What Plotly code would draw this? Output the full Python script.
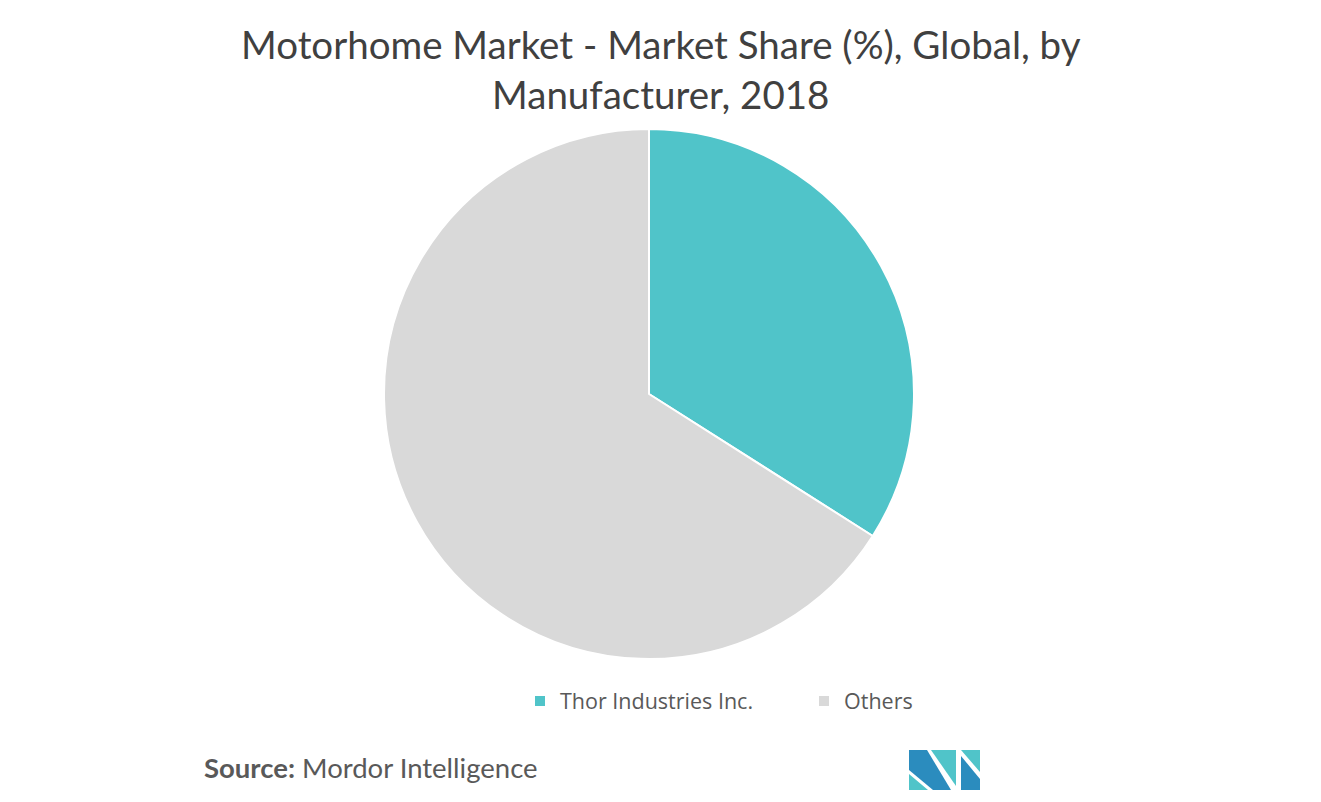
import plotly.graph_objects as go

W, H = 1321, 802

labels = ["Thor Industries Inc.", "Others"]
shares = [34, 66]
colors = ["#50C4C9", "#D9D9D9"]

title_text = "Motorhome Market - Market Share (%), Global, by<br>Manufacturer, 2018"


def px(x, y):
    # pixel position -> paper coords (margins are zero)
    return x / W, 1 - y / H


def path(points):
    pts = [px(x, y) for x, y in points]
    s = "M {} {}".format(*pts[0])
    for p in pts[1:]:
        s += " L {} {}".format(*p)
    return s + " Z"


fig = go.Figure()

cx, cy, r = 649, 394, 265
x0, y0 = px(cx - r, cy + r)
x1, y1 = px(cx + r, cy - r)

fig.add_trace(go.Pie(
    labels=labels,
    values=shares,
    sort=False,
    direction="clockwise",
    rotation=0,
    marker=dict(colors=colors, line=dict(color="white", width=2)),
    textinfo="none",
    hoverinfo="label+percent",
    domain=dict(x=[x0, x1], y=[y0, y1]),
))

fig.update_layout(
    width=W, height=H,
    margin=dict(l=0, r=0, t=0, b=0),
    paper_bgcolor="white",
    plot_bgcolor="white",
    legend=dict(
        orientation="h",
        x=px(520, 0)[0], xanchor="left",
        y=px(0, 701)[1], yanchor="middle",
        font=dict(family="Open Sans", size=21.5, color="#595959"),
        entrywidth=239,
        entrywidthmode="pixels",
        itemclick=False,
    ),
    showlegend=True,
)

# title (annotation so both lines stay inside the page)
tx, ty = px(661, 69)
fig.add_annotation(
    text=title_text,
    x=tx, y=ty, xref="paper", yref="paper",
    xanchor="center", yanchor="middle",
    showarrow=False,
    font=dict(family="Lato", size=38.5, color="#404040"),
)

# source note
sx, sy = px(202, 767)
fig.add_annotation(
    text="<b>Source:</b> Mordor Intelligence",
    x=sx, y=sy, xref="paper", yref="paper",
    xanchor="left", yanchor="middle",
    showarrow=False,
    font=dict(family="Lato", size=27.5, color="#595959"),
)

# logo
dark = "#2B8CBE"
teal = "#50C4C9"
logo = [
    ([(909, 750), (927, 750), (951, 790), (933, 790), (909, 770)], dark),
    ([(909, 774), (928, 790), (909, 790)], teal),
    ([(931, 750), (956, 750), (956, 786)], teal),
    ([(961, 750), (980, 750), (980, 772)], teal),
    ([(961, 756), (980, 779), (980, 790), (961, 790)], dark),
]
for pts, col in logo:
    fig.add_shape(type="path", path=path(pts), xref="paper", yref="paper",
                  fillcolor=col, line=dict(width=0), layer="above")

fig.write_html("out.html", config={"displayModeBar": False},
               post_script="document.body.style.margin='0px';")
